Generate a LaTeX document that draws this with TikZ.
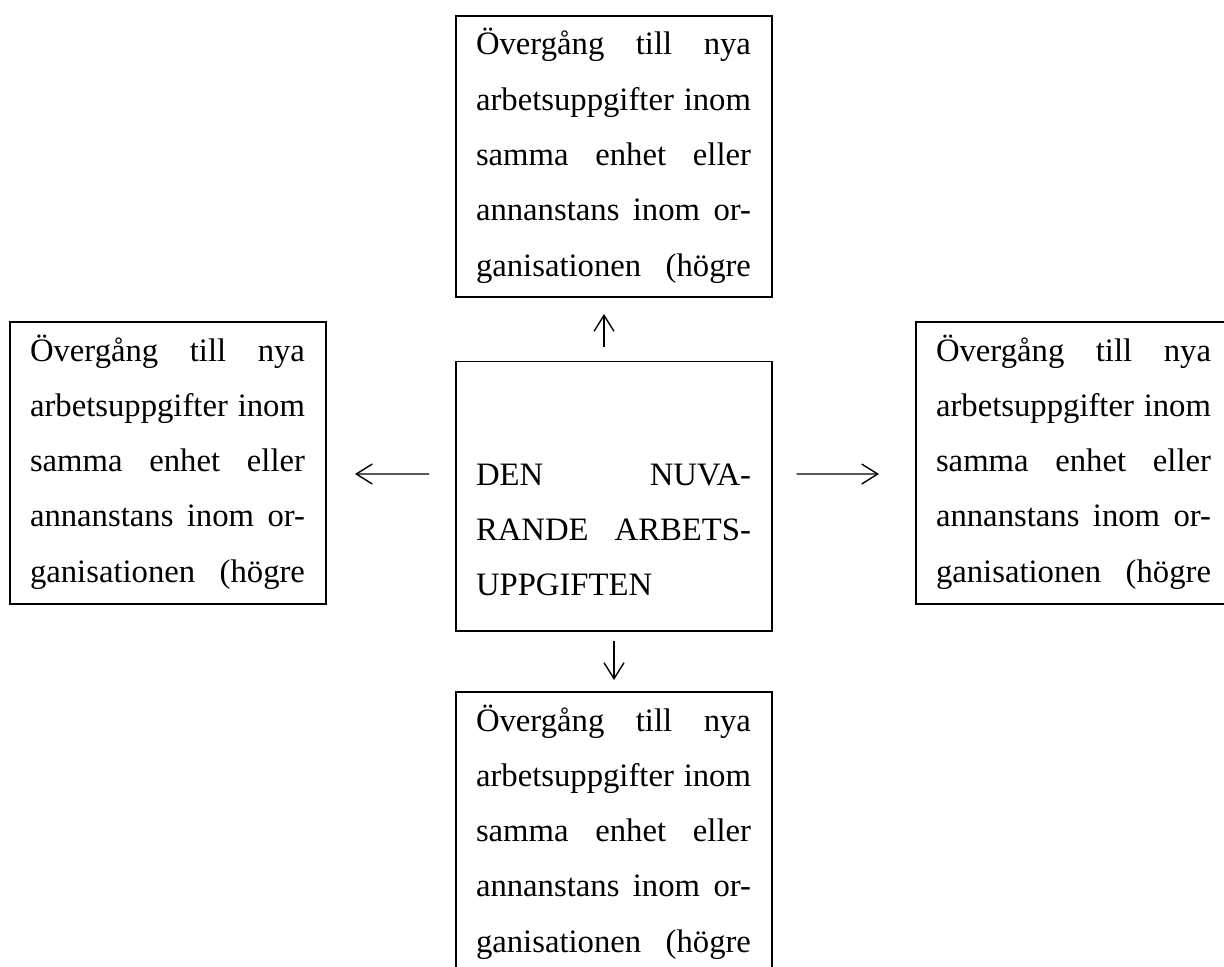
\documentclass[tikz,border=0pt]{standalone}
\usepackage{fontspec}
\setmainfont[Ligatures=NoCommon]{Liberation Serif}
\usetikzlibrary{arrows.meta}
\newcommand\bline[1]{\hbox to 158pt{\hskip10pt\rule[-8.65pt]{0pt}{27.65pt}\hbox to 137.5pt{#1}\hss}}
\newcommand\bstack[3]{\vbox to #1{\offinterlineskip\kern#2\relax #3\vss}}
\newcommand\boxtext{\bline{Övergång\hfill till\hfill nya}\bline{arbetsuppgifter\hfill inom}\bline{samma\hfill enhet\hfill eller}\bline{annanstans\hfill inom\hfill or-}\bline{ganisationen\hfill (högre}}
\begin{document}
\begin{tikzpicture}[x=0.5pt,y=-0.5pt,
  framebox/.style={draw, line width=0.85pt, inner sep=0pt, outer sep=0pt, anchor=north west,
    font=\fontsize{16.35pt}{27.65pt}\selectfont},
  arr/.style={-{Straight Barb[length=8pt,width=10pt]}, line width=0.7pt}]
\useasboundingbox (0,0) rectangle (1224,967);
\clip (0,0) rectangle (1224,967);
\fill[white] (0,0) rectangle (1224,967);
\node[framebox] (upbox) at (456,16) {\bstack{140.5pt}{0.5pt}{\boxtext}};
\node[framebox] (leftbox) at (10,322) {\bstack{141pt}{0.5pt}{\boxtext}};
\node[framebox] (rightbox) at (916,322) {\bstack{141pt}{0.5pt}{\boxtext}};
\node[framebox] (midbox) at (456,361.5) {\bstack{134.75pt}{42.75pt}{%
  \bline{DEN\hfill NUVA-}\bline{RANDE\hfill ARBETS-}\bline{UPPGIFTEN\hfill}}};
\node[framebox] (downbox) at (456,692) {\bstack{300pt}{0.5pt}{\boxtext}};
\draw[arr, shorten <=7.25pt, shorten >=8.5pt] ([xshift=-5pt]midbox.north) -- ([xshift=-5pt]upbox.south);
\draw[arr, shorten <=5pt, shorten >=6pt] (midbox.south) -- (downbox.north);
\draw[arr, shorten <=13.5pt, shorten >=14.5pt] ([yshift=11.1pt]midbox.west) -- ([yshift=-5.5pt]leftbox.east);
\draw[arr, shorten <=12.35pt, shorten >=18.5pt] ([yshift=11.1pt]midbox.east) -- ([yshift=-5.5pt]rightbox.west);
\end{tikzpicture}
\end{document}
